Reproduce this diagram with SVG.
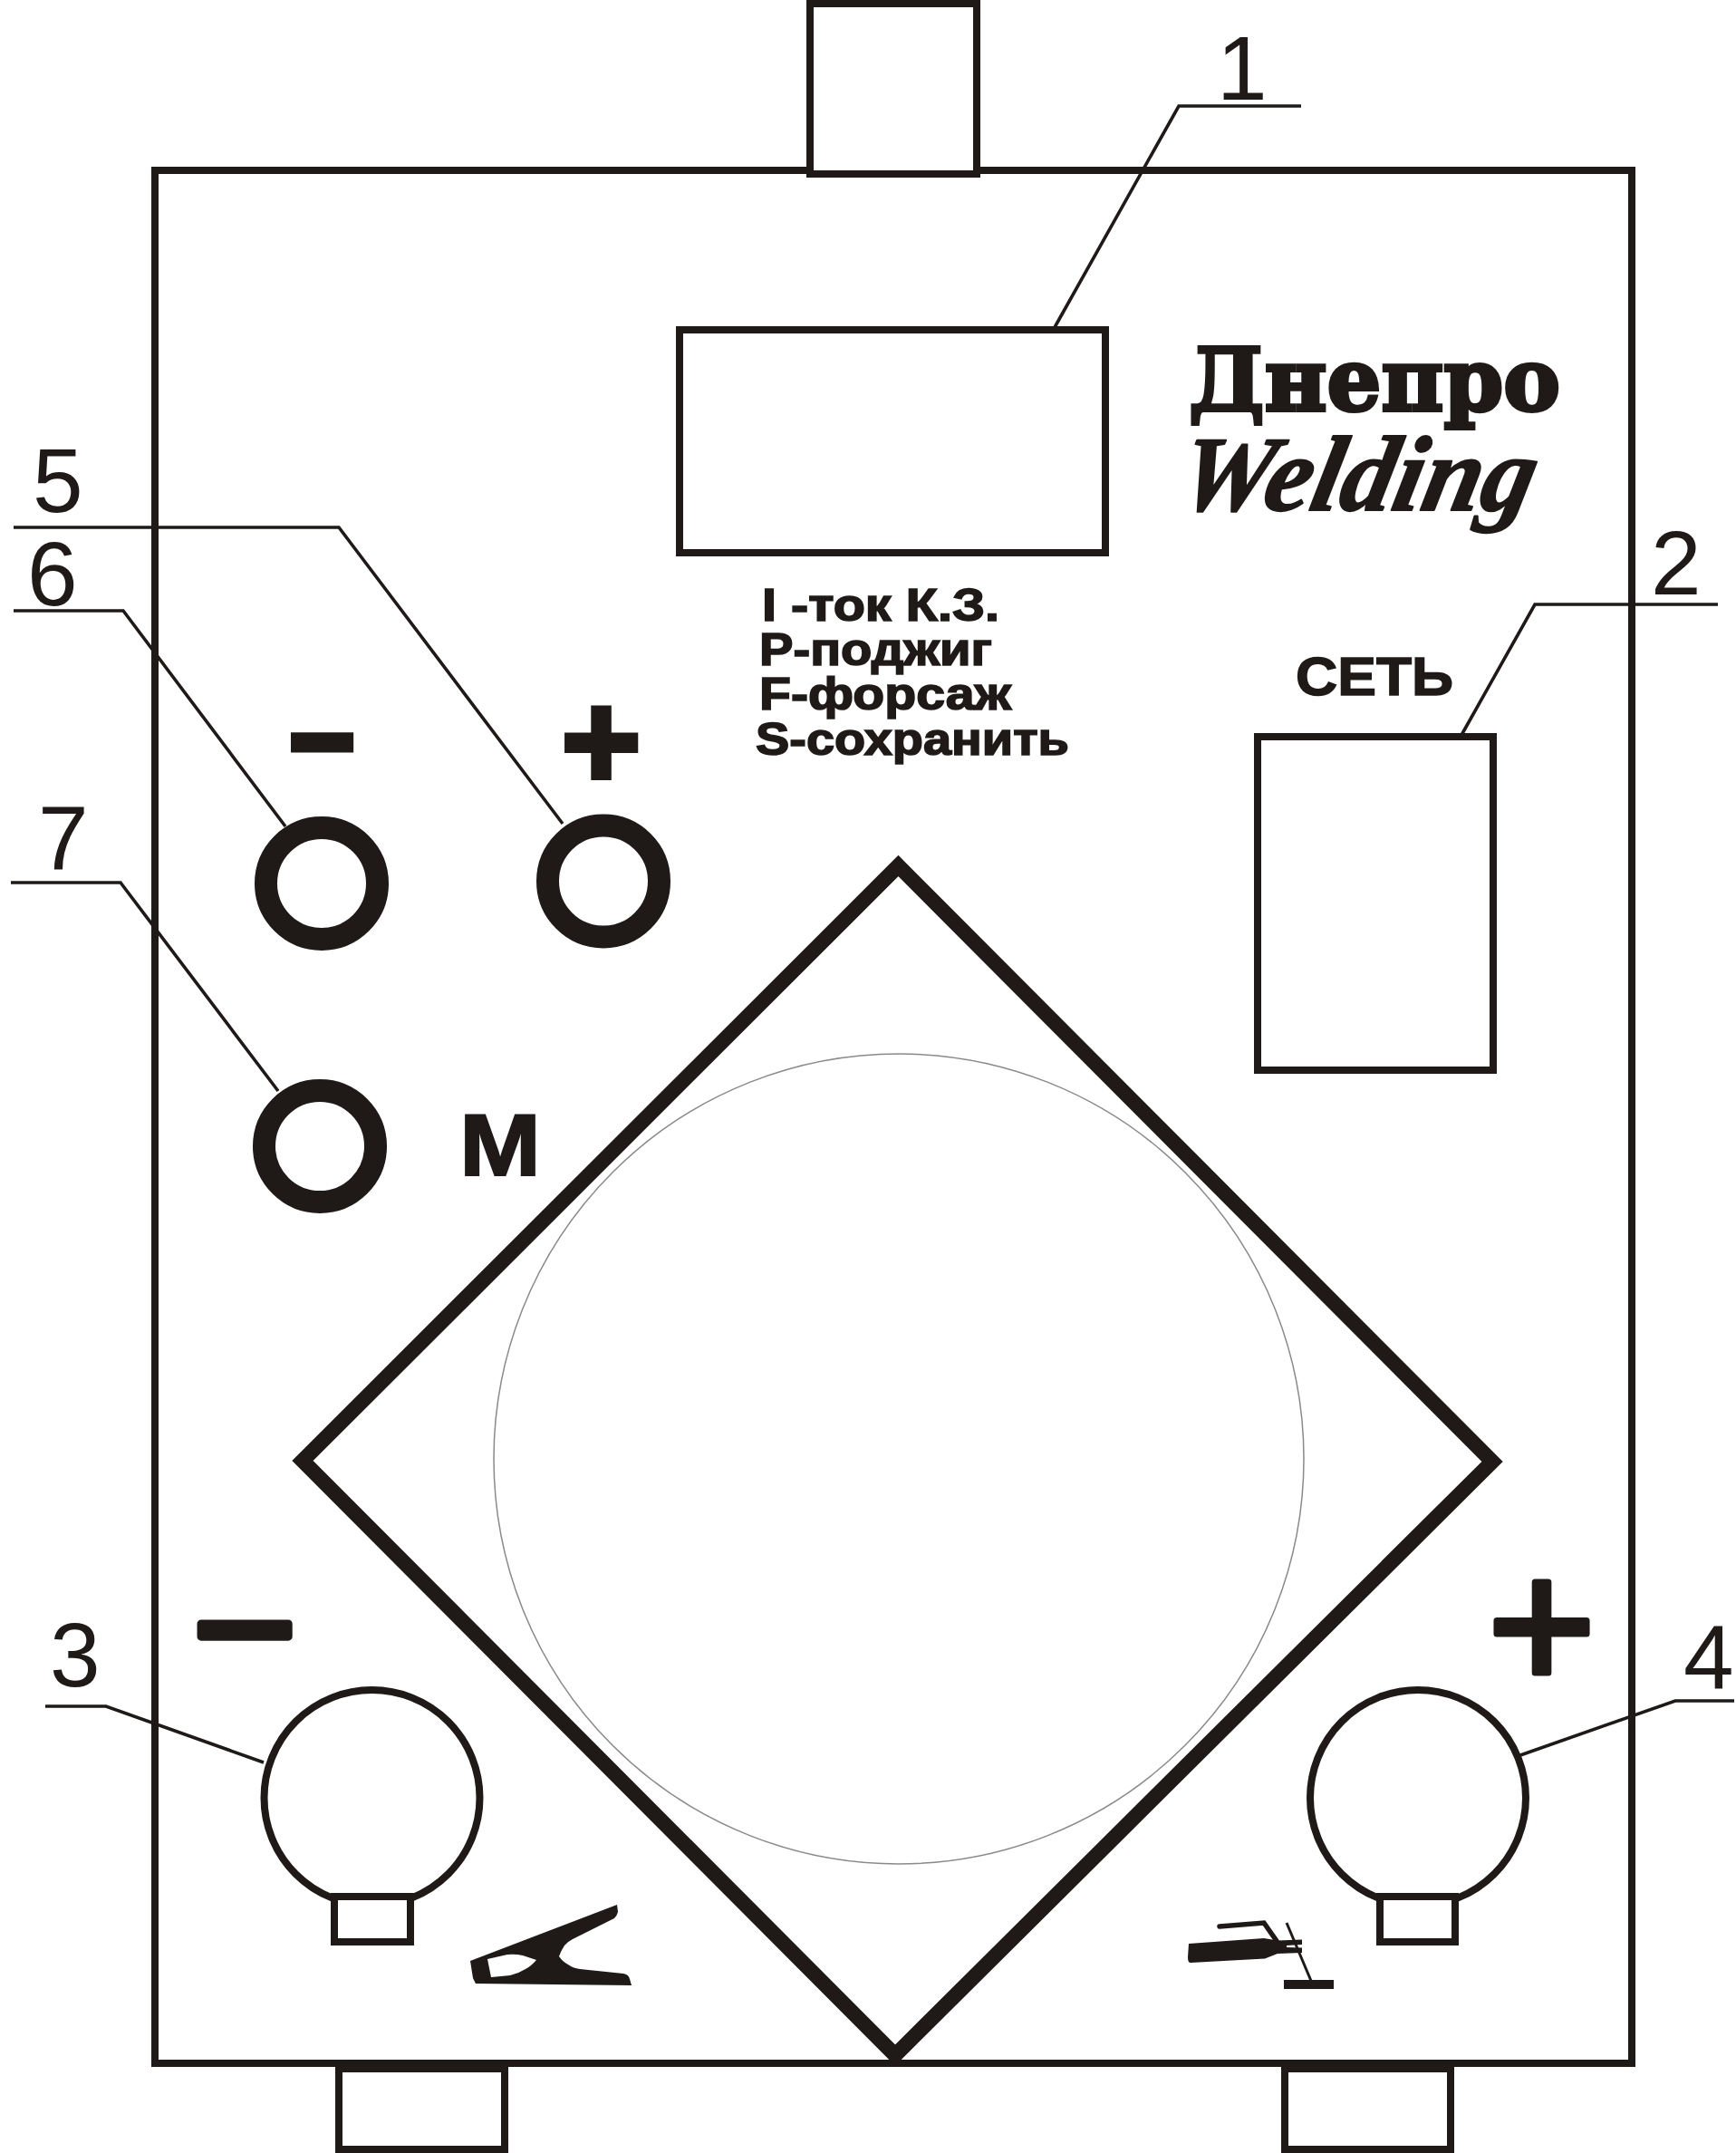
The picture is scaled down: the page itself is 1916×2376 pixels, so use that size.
<svg xmlns="http://www.w3.org/2000/svg" width="1916" height="2376" viewBox="0 0 1916 2376">
<style>
.o{fill:none;stroke:#1f1a17;stroke-width:8}
.w{fill:#fff;stroke:#1f1a17;stroke-width:8}
.k{fill:#fff;stroke:#1f1a17;stroke-width:25}
.l{fill:none;stroke:#1f1a17;stroke-width:3.600}
.n{font-family:"Liberation Sans",Arial,sans-serif;font-size:100px;fill:#1f1a17}
.b{font-family:"Liberation Sans",Arial,sans-serif;font-weight:700;fill:#1f1a17}
.s{font-family:"Liberation Sans",Arial,sans-serif;fill:#1f1a17;stroke:#1f1a17;stroke-linejoin:round;text-anchor:middle}
.t{font-size:50px;stroke:#1f1a17;stroke-width:1.600}
.f{fill:#1f1a17}
</style>
<rect width="1916" height="2376" fill="#fff"/>
<g id="body"><rect class="o" x="171" y="188" width="1630" height="2089"/></g>
<g id="top-tab"><rect class="w" x="894" y="4" width="184" height="188"/></g>
<g id="bottom-tab-left"><rect class="w" x="374" y="2283" width="183" height="89"/></g>
<g id="bottom-tab-right"><rect class="w" x="1418" y="2283" width="183" height="89"/></g>
<g id="display"><rect class="o" x="750" y="364" width="470" height="246"/></g>
<g id="switch"><rect class="o" x="1388" y="813" width="260" height="368"/>
<text class="b" x="1430" y="767" font-size="60" stroke="#1f1a17" stroke-width="1.500" textLength="174" lengthAdjust="spacingAndGlyphs">СЕТЬ</text></g>
<g id="diamond"><polygon points="991.500,955.500 1647,1613 988,2268 334,1612" fill="none" stroke="#1f1a17" stroke-width="16.500"/></g>
<g id="dial"><circle cx="992" cy="1610" r="447" fill="none" stroke="#8a8a8a" stroke-width="1.500"/></g>
<g id="knob-minus"><circle class="k" cx="355" cy="975" r="61.500"/>
<text class="s" font-weight="700" font-size="120" stroke-width="9" style="stroke-linejoin:miter" x="355.500" y="858.500">−</text></g>
<g id="knob-plus"><circle class="k" cx="666" cy="972.500" r="61.500"/>
<text class="s" font-weight="700" font-size="150" stroke-width="6" style="stroke-linejoin:miter" x="663.500" y="869.500">+</text></g>
<g id="knob-m"><circle class="k" cx="353" cy="1265" r="61.500"/>
<text class="b" x="507" y="1297" font-size="96" stroke="#1f1a17" stroke-width="2" textLength="90" lengthAdjust="spacingAndGlyphs">М</text></g>
<g id="output-minus"><circle class="w" cx="410.500" cy="1984" r="119"/>
<rect class="w" x="369" y="2093" width="84" height="50"/>
<text class="s" font-size="198" stroke-width="9" x="270" y="1865">−</text>
<g id="clamp-icon"><path class="f" fill-rule="evenodd" d="M519 2164L681 2102L682 2110Q681 2114 678 2117L632 2140Q626 2143 623 2147Q619 2153 617 2159Q621 2165 627 2168Q632 2172 640 2173L688 2178Q694 2179 695 2184L697 2191L525 2189L522 2183ZM538 2162L560 2157Q568 2156 577 2158L592 2163Q586 2170 580 2173Q572 2178 563 2180L542 2182Z"/></g></g>
<g id="output-plus"><circle class="w" cx="1565" cy="1984" r="119"/>
<rect class="w" x="1523" y="2093" width="83" height="50"/>
<text class="s" font-size="204" stroke-width="7" x="1701.500" y="1864">+</text>
<g id="torch-icon"><path class="f" d="M1312 2145L1395 2139L1410 2141.500L1437 2140.500V2146L1420 2147V2149L1437 2149.500V2155L1410 2156L1396 2161.500L1314 2166Q1311 2166 1311 2160Z"/>
<path d="M1346 2126L1395 2122L1409 2142" fill="none" stroke="#1f1a17" stroke-width="5.500" stroke-linecap="round"/>
<path d="M1420 2122L1447 2186" fill="none" stroke="#1f1a17" stroke-width="3"/>
<rect class="f" x="1417" y="2185" width="55" height="10"/></g></g>
<g id="logo">
<text x="1312" y="453" font-family="'DejaVu Serif',serif" font-weight="700" font-size="96" fill="#1f1a17" stroke="#1f1a17" stroke-width="4" textLength="410" lengthAdjust="spacingAndGlyphs">Днепро</text>
<text transform="translate(1296 563) skewX(-12)" font-family="'Liberation Serif',serif" font-weight="700" font-style="italic" font-size="118" fill="#1f1a17" stroke="#1f1a17" stroke-width="2" stroke-linejoin="round" textLength="392" lengthAdjust="spacingAndGlyphs">Welding</text>
</g>
<g id="legend">
<text class="b t" x="841" y="685" textLength="262" lengthAdjust="spacingAndGlyphs">I -ток К.З.</text>
<text class="b t" x="838" y="734" textLength="257" lengthAdjust="spacingAndGlyphs">P-поджиг</text>
<text class="b t" x="838" y="783" textLength="278" lengthAdjust="spacingAndGlyphs">F-форсаж</text>
<text class="b t" x="834" y="833" textLength="346" lengthAdjust="spacingAndGlyphs">S-сохранить</text>
</g>
<g id="connectors">
<polyline class="l" points="1436,117 1301,117 1163,363"/>
<polyline class="l" points="1896,667 1694,667 1612,813"/>
<polyline class="l" points="50,1883 117,1883 291,1945"/>
<polyline class="l" points="1914,1877 1849,1877 1678,1937"/>
<polyline class="l" points="15,582 374,582 621,909"/>
<polyline class="l" points="15,674 136,674 315,912"/>
<polyline class="l" points="12,974 133,974 307,1204"/>
</g>
<g id="numbers">
<text class="n" x="1343" y="110">1</text>
<text class="n" x="1822" y="656">2</text>
<text class="n" x="55" y="1861">3</text>
<text class="n" x="1858" y="1864">4</text>
<text class="n" x="36" y="565">5</text>
<text class="n" x="30" y="668">6</text>
<text class="n" x="42" y="960">7</text>
</g>
</svg>
